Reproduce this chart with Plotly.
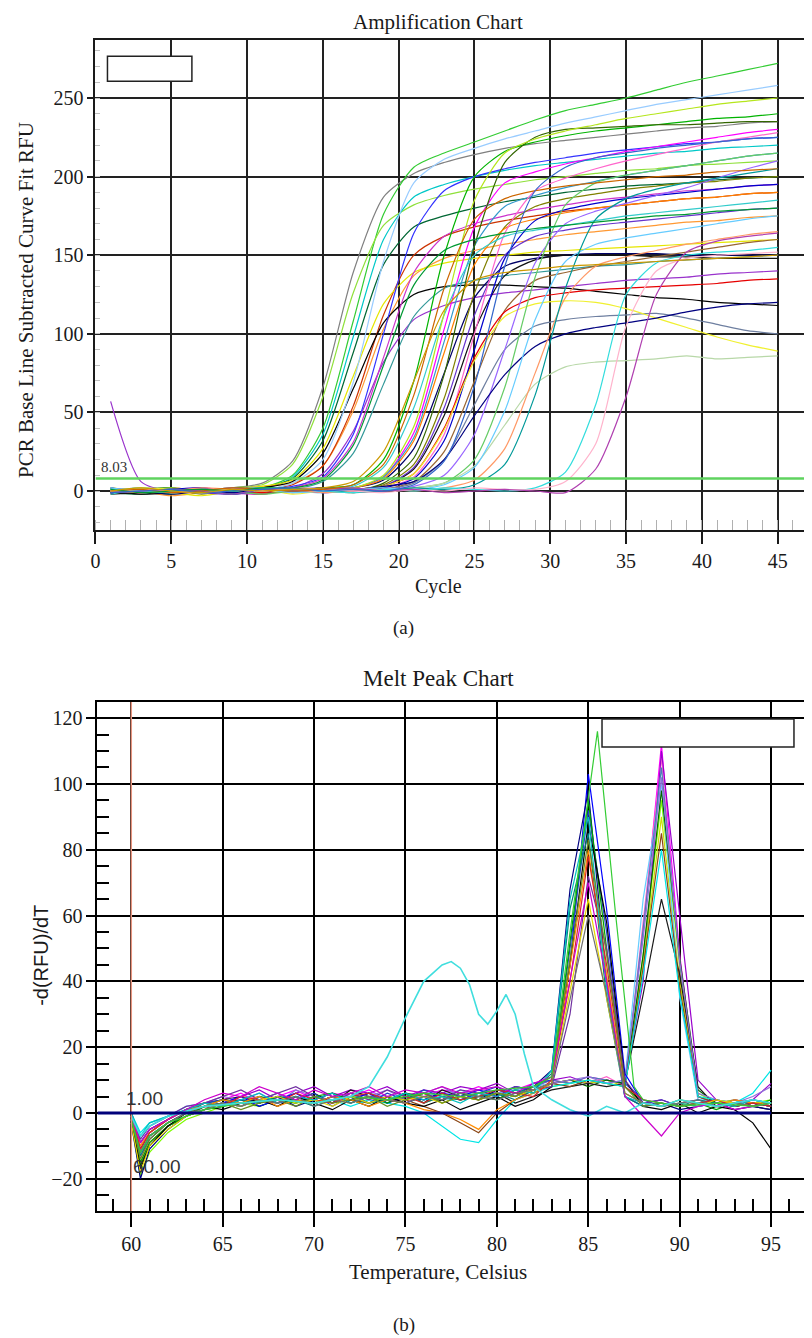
import plotly.graph_objects as go

# ---------------- Amplification chart data (RFU read at odd cycles) ----------------
AMP_CYCLES = [1, 3, 5, 7, 9, 11, 13, 15, 17, 19, 21, 23, 25, 27, 29, 31, 33, 35, 37, 39, 41, 43, 45]

AMP_01 = [2, -1, 1, 0, 2, 5, 19, 66, 139, 187, 202, 209, 214, 218, 221, 223, 225, 227, 229, 231, 232, 234, 235]
AMP_02 = [1, 0, -2, 1, 0, 2, 10, 40, 108, 176, 206, 215, 222, 229, 236, 242, 246, 250, 255, 260, 264, 268, 272]
AMP_03 = [-2, 1, 0, -1, 2, 4, 17, 60, 126, 169, 182, 188, 192, 195, 198, 200, 202, 204, 205, 207, 208, 209, 210]
AMP_04 = [0, 2, 1, -1, 1, 1, 9, 36, 98, 160, 187, 195, 200, 204, 207, 209, 211, 213, 215, 216, 218, 219, 220]
AMP_05 = [-1, -2, 0, 2, -1, 2, 8, 32, 88, 144, 168, 175, 180, 184, 187, 190, 192, 194, 195, 196, 198, 199, 200]
AMP_06 = [1, 0, -3, -1, 1, 3, 5, 16, 51, 103, 137, 148, 153, 157, 160, 163, 165, 167, 169, 171, 172, 174, 175]
AMP_07 = [-1, 1, 2, 0, -2, 1, 4, 16, 54, 112, 150, 162, 168, 172, 175, 178, 180, 182, 184, 186, 187, 189, 190]
AMP_08 = [2, 0, -1, -3, 0, 3, 7, 27, 73, 119, 139, 145, 148, 150, 152, 153, 154, 155, 156, 157, 158, 159, 160]
AMP_09 = [57, 6, 0, 1, -2, 0, 2, 11, 38, 82, 109, 118, 123, 126, 128, 130, 132, 134, 135, 136, 138, 139, 140]
AMP_10 = [0, -2, -1, 1, 0, 2, 6, 24, 65, 107, 125, 130, 131, 131, 130, 129, 127, 125, 123, 122, 120, 119, 118]
AMP_11 = [1, 0, 2, -1, 0, 1, 3, 9, 36, 100, 164, 191, 200, 205, 209, 212, 215, 217, 219, 221, 222, 224, 225]
AMP_12 = [-1, 1, 0, 2, -1, -2, 2, 8, 31, 85, 139, 162, 170, 175, 179, 182, 185, 187, 189, 191, 192, 194, 195]
AMP_13 = [0, 1, -1, 0, 2, 1, 5, 20, 69, 146, 196, 211, 218, 224, 229, 234, 238, 242, 246, 249, 252, 255, 258]
AMP_14 = [2, -1, 0, 1, -2, 0, 1, 6, 24, 68, 111, 129, 134, 137, 139, 141, 143, 144, 146, 147, 148, 149, 150]
AMP_15 = [1, 0, -2, 0, 1, -1, 0, 1, 2, 7, 27, 75, 123, 143, 148, 150, 151, 151, 151, 150, 150, 150, 150]
AMP_16 = [-2, -1, 0, 1, -1, 0, 2, 0, 1, 3, 14, 48, 102, 137, 147, 150, 150, 150, 149, 149, 148, 148, 148]
AMP_17 = [0, 1, 2, -1, 0, 2, 1, 2, 4, 20, 70, 150, 200, 216, 222, 226, 229, 231, 233, 235, 237, 238, 240]
AMP_18 = [1, -1, 0, 2, 0, -2, 1, 0, 2, 9, 37, 103, 168, 196, 203, 208, 212, 216, 219, 222, 225, 228, 230]
AMP_19 = [-1, 0, 1, -2, 1, 0, -1, 1, 1, 4, 17, 59, 126, 168, 181, 186, 189, 192, 194, 196, 197, 199, 200]
AMP_20 = [0, 2, -1, 0, 1, 1, 0, -1, 2, 9, 34, 95, 156, 181, 188, 193, 197, 201, 204, 207, 210, 213, 215]
AMP_21 = [2, 0, 1, -1, -2, 0, 1, 2, 1, 3, 15, 53, 112, 150, 162, 166, 169, 171, 173, 175, 177, 179, 180]
AMP_22 = [-1, 1, 0, 1, 0, -1, 2, 1, 2, 8, 32, 88, 144, 167, 173, 177, 180, 182, 184, 186, 187, 189, 190]
AMP_23 = [0, -1, 1, 2, 0, 1, -1, 0, 1, 2, 9, 36, 100, 164, 191, 199, 205, 210, 214, 218, 222, 225, 228]
AMP_24 = [1, 0, -1, 0, 2, 1, 0, 2, 0, 5, 21, 74, 156, 209, 225, 230, 231, 232, 233, 233, 234, 235, 235]
AMP_25 = [-2, 1, 0, -1, 1, 2, 0, 1, 3, 15, 53, 112, 150, 162, 166, 169, 172, 175, 177, 179, 181, 183, 185]
AMP_26 = [0, 1, -1, 1, 0, -2, 1, 0, -1, 1, 6, 25, 70, 115, 134, 139, 143, 146, 149, 152, 155, 158, 160]
AMP_27 = [1, 0, 2, 0, -1, 1, 0, 2, 2, 10, 41, 113, 185, 215, 224, 229, 233, 237, 240, 243, 246, 248, 250]
AMP_28 = [0, -1, 1, 0, 1, -1, 2, 0, 1, 3, 11, 40, 85, 114, 123, 126, 128, 129, 130, 131, 132, 134, 135]
AMP_29 = [-1, 0, 1, 2, -1, 0, 1, -1, 0, 2, 8, 32, 90, 148, 172, 179, 183, 186, 188, 190, 192, 194, 195]
AMP_30 = [1, 0, -1, 0, 1, 2, 0, 1, 0, 1, 5, 20, 55, 90, 105, 109, 111, 112, 113, 110, 106, 102, 100]
AMP_31 = [0, 2, 1, -1, 0, 1, -2, 0, 1, 3, 11, 39, 83, 111, 119, 121, 120, 116, 110, 104, 98, 93, 89]
AMP_32 = [0, 1, -1, 0, 2, 0, 1, -1, 0, 1, 3, 10, 36, 90, 145, 170, 178, 183, 188, 193, 199, 205, 210]
AMP_33 = [1, -1, 0, 1, 0, -2, 0, 1, 2, 0, 2, 5, 20, 66, 136, 182, 196, 201, 204, 207, 210, 213, 215]
AMP_34 = [-1, 0, 1, 0, -1, 1, 0, 2, 1, 3, 6, 20, 48, 74, 92, 100, 104, 107, 110, 114, 117, 119, 120]
AMP_35 = [0, 1, -1, 0, 1, 0, 2, 0, -1, 1, 2, 5, 16, 42, 68, 79, 82, 83, 84, 86, 84, 85, 86]
AMP_36 = [2, 0, 1, -1, 0, 1, -1, 0, 1, 2, 1, 4, 15, 51, 109, 146, 157, 161, 164, 167, 170, 173, 175]
AMP_37 = [0, -1, 0, 2, 1, 0, 1, -1, 0, 1, 0, 2, 7, 27, 75, 123, 143, 149, 153, 157, 160, 163, 165]
AMP_38 = [-1, 0, 1, 0, -2, 1, 0, 1, -1, 0, 2, 1, 4, 17, 61, 129, 173, 186, 192, 196, 199, 202, 205]
AMP_39 = [1, 0, -1, 1, 0, 2, 1, 0, -1, 1, 0, 2, 1, 0, 2, 12, 55, 125, 145, 150, 152, 153, 155]
AMP_40 = [0, 1, 0, -1, 1, 0, 2, 1, 0, -1, 1, 0, 2, 1, 1, 6, 30, 105, 140, 148, 150, 151, 152]
AMP_41 = [-1, 0, 1, 0, -2, 1, 0, 1, 2, 0, 1, -1, 0, 1, 0, -1, 14, 60, 125, 152, 159, 162, 164]
AMP_42 = [0, 1, -1, 0, 2, 1, 0, 1, 4, 17, 61, 129, 173, 186, 191, 194, 196, 198, 200, 201, 203, 204, 205]
AMP_43 = [1, -1, 0, 1, 0, 2, 2, 7, 29, 80, 131, 153, 160, 164, 167, 169, 171, 173, 175, 176, 178, 179, 180]
AMP_44 = [-1, 0, 1, -1, 0, 1, 2, 0, 1, 0, 4, 19, 67, 143, 191, 206, 212, 215, 218, 220, 222, 224, 225]
AMP_45 = [0, 2, 0, -1, 1, 0, 1, 2, 6, 25, 70, 115, 134, 139, 141, 143, 144, 145, 146, 147, 148, 149, 150]

AMP_SERIES = [AMP_01, AMP_02, AMP_03, AMP_04, AMP_05, AMP_06, AMP_07, AMP_08, AMP_09, AMP_10,
              AMP_11, AMP_12, AMP_13, AMP_14, AMP_15, AMP_16, AMP_17, AMP_18, AMP_19, AMP_20,
              AMP_21, AMP_22, AMP_23, AMP_24, AMP_25, AMP_26, AMP_27, AMP_28, AMP_29, AMP_30,
              AMP_31, AMP_32, AMP_33, AMP_34, AMP_35, AMP_36, AMP_37, AMP_38, AMP_39, AMP_40,
              AMP_41, AMP_42, AMP_43, AMP_44, AMP_45]
AMP_COLORS = ["#808080", "#33cc33", "#8fe03a", "#00c8c8", "#006633", "#ff9933", "#cc3300", "#e6e600",
              "#9933cc", "#000000", "#3333ff", "#cc33cc", "#99ccff", "#339999", "#000066", "#111111",
              "#00b300", "#ff00ff", "#808000", "#3399cc", "#6633cc", "#ff8000", "#ff66cc", "#336600",
              "#33cccc", "#996633", "#b5e61d", "#e60000", "#0000cc", "#6e7fa0", "#f0f030", "#9966ff",
              "#66cc66", "#000080", "#b8d8a8", "#66ccff", "#ff9966", "#009999", "#33dddd", "#ffb3cc",
              "#b040b0", "#cc6600", "#009933", "#3366cc", "#cc9900"]
AMP_THRESHOLD = 8.03
AMP_X_TICKS = [0, 5, 10, 15, 20, 25, 30, 35, 40, 45]
AMP_Y_TICKS = [0, 50, 100, 150, 200, 250]

# ---------------- Melt peak chart data ----------------
MELT_TEMPS = [60, 60.5, 61, 62, 63, 64, 65, 66, 67, 68, 69, 70, 71, 72, 73, 74, 75, 76, 77, 78, 79,
              80, 81, 82, 83, 84, 85, 86, 87, 88, 89, 90, 91, 92, 93, 94, 95]

# peaks near 89 C
MELT_B01 = [-2, -14, -8, -3, 0, 2, 4, 6, 3, 5, 7, 4, 6, 5, 7, 4, 6, 5, 7, 6, 8, 6, 7, 9, 10, 9, 11, 10, 9, 55, 112, 48, 5, 3, 4, 3, 2]
MELT_B02 = [0, -10, -5, -2, 1, 3, 2, 4, 5, 3, 5, 4, 3, 6, 4, 5, 3, 6, 5, 4, 6, 5, 7, 8, 9, 10, 9, 11, 8, 58, 108, 44, 4, 3, 2, 3, 2]
MELT_B03 = [-1, -16, -9, -4, -1, 2, 3, 5, 7, 4, 6, 8, 5, 7, 6, 8, 5, 7, 6, 8, 7, 9, 6, 8, 10, 11, 9, 10, 9, 40, 110, 60, 10, 4, 3, 4, 9]
MELT_B04 = [-3, -19, -12, -6, -2, 0, 2, 3, 2, 4, 3, 5, 4, 3, 5, 4, 6, 3, 5, 4, 5, 6, 5, 7, 8, 9, 10, 9, 8, 48, 95, 45, 6, 3, 4, 3, 4]
MELT_B05 = [-2, -15, -9, -4, -1, 1, 3, 4, 3, 5, 4, 3, 5, 4, 3, 5, 4, 6, 3, 5, 4, 6, 5, 7, 9, 10, 9, 10, 8, 45, 90, 40, 5, 3, 2, 3, 3]
MELT_B06 = [0, -8, -4, -1, 2, 3, 4, 3, 5, 4, 6, 3, 5, 4, 6, 5, 4, 6, 5, 7, 5, 6, 7, 8, 9, 8, 10, 9, 10, 65, 100, 35, 4, 4, 3, 2, 3]
MELT_B07 = [-1, -13, -7, -3, 0, 2, 3, 2, 4, 6, 3, 5, 4, 6, 3, 5, 4, 6, 4, 5, 6, 4, 6, 8, 10, 9, 11, 10, 9, 56, 105, 46, 5, 3, 2, 4, 3]
MELT_B08 = [-2, -16, -10, -4, -1, 1, 3, 4, 2, 4, 5, 3, 5, 4, 6, 3, 5, 4, 6, 4, 5, 6, 5, 7, 9, 10, 8, 10, 9, 48, 98, 47, 7, 3, 2, 3, 2]
MELT_B09 = [-1, -11, -6, -2, 1, 3, 4, 5, 3, 5, 4, 6, 3, 7, 5, 4, 6, 3, 7, 5, 4, 6, 3, 5, 7, 8, 9, 8, 9, 36, 65, 42, 8, 2, 3, 2, 1]
MELT_B10 = [0, -9, -5, -2, 1, 2, 3, 4, 3, 5, 4, 3, 5, 4, 3, 5, 4, 2, 0, -3, -6, 0, 4, 7, 9, 8, 10, 9, 8, 44, 85, 38, 5, 3, 2, 3, 2]
MELT_B11 = [-2, -12, -7, -3, 0, 3, 5, 4, 6, 3, 7, 5, 4, 6, 5, 7, 4, 6, 8, 5, 7, 6, 8, 7, 9, 10, 11, 9, 10, 53, 102, 46, 6, 4, 3, 5, 8]
MELT_B12 = [0, -6, -3, -1, 1, 2, 3, 2, 4, 3, 5, 3, 4, 2, 4, 3, 2, 0, -4, -8, -9, -2, 4, 6, 8, 9, 10, 9, 8, 42, 80, 36, 5, 4, 3, 6, 13]

# peaks near 85 C
MELT_A01 = [-1, -12, -7, -3, 0, 2, 3, 5, 2, 4, 6, 3, 5, 4, 6, 3, 5, 4, 6, 5, 7, 5, 8, 7, 9, 45, 103, 62, 12, 3, 4, 2, 3, 4, 2, 3, 2]
MELT_A02 = [-3, -20, -11, -5, -1, 1, 2, 4, 3, 5, 2, 4, 6, 3, 5, 4, 3, 5, 4, 6, 4, 7, 6, 8, 13, 68, 98, 40, 5, 2, 3, 1, 2, 3, 1, 2, 1]
MELT_A03 = [0, -9, -5, -2, 1, 3, 4, 2, 5, 3, 4, 6, 2, 5, 3, 6, 4, 7, 5, 4, 6, 8, 5, 9, 10, 50, 92, 55, 9, 4, 2, 3, 4, 2, 3, 4, 3]
MELT_A04 = [-2, -15, -9, -4, -1, 2, 4, 3, 5, 4, 3, 5, 6, 4, 5, 3, 6, 5, 4, 6, 5, 4, 7, 6, 9, 52, 95, 50, 8, 3, 2, 4, 3, 1, 3, 2, 4]
MELT_A05 = [-1, -17, -10, -4, 0, 2, 1, 3, 4, 2, 5, 3, 1, 4, 2, 5, 3, 2, 4, 1, 3, 5, 2, 4, 8, 45, 88, 58, 10, 2, 1, 3, 0, 2, 1, -3, -11]
MELT_A06 = [0, -8, -4, -1, 2, 3, 5, 7, 4, 6, 8, 5, 3, 6, 4, 7, 5, 6, 4, 7, 6, 5, 8, 7, 8, 30, 72, 50, 10, 3, 4, 2, 3, 2, 4, 3, 2]
MELT_A07 = [-2, -13, -8, -3, 0, 3, 2, 4, 3, 5, 4, 2, 4, 5, 3, 4, 6, 3, 5, 4, 5, 6, 4, 7, 12, 62, 85, 35, 5, 2, 3, 2, 4, 3, 2, 3, 2]
MELT_A08 = [-1, -10, -6, -2, 1, 2, 4, 3, 5, 2, 4, 3, 5, 4, 2, 4, 3, 1, 0, -2, -5, 1, 4, 6, 9, 44, 80, 42, 6, 3, 2, 4, 3, 2, 4, 3, 3]
MELT_A09 = [0, -11, -6, -2, 1, 3, 2, 5, 4, 3, 6, 4, 3, 5, 6, 4, 5, 3, 6, 4, 5, 7, 6, 5, 10, 40, 78, 45, 8, 4, 3, 2, 3, 4, 2, 3, 2]
MELT_A10 = [-3, -18, -10, -5, -1, 1, 3, 2, 4, 5, 3, 4, 2, 5, 3, 5, 4, 5, 3, 5, 4, 6, 5, 7, 9, 37, 65, 35, 6, 3, 2, 3, 2, 4, 3, 2, 3]
MELT_A11 = [0, -7, -3, -1, 1, 3, 2, 4, 6, 3, 5, 4, 6, 3, 5, 4, 6, 4, 5, 3, 6, 5, 7, 6, 13, 65, 90, 38, 5, 3, 2, 3, 2, 3, 2, 4, 3]
MELT_A12 = [-2, -14, -8, -3, 0, 2, 3, 1, 3, 4, 2, 5, 3, 4, 5, 2, 4, 6, 3, 5, 4, 6, 5, 8, 11, 47, 83, 48, 8, 2, 3, 2, 3, 2, 3, 2, 3]
MELT_A13 = [-1, -9, -5, -2, 1, 4, 6, 5, 8, 6, 4, 7, 5, 6, 8, 5, 7, 6, 8, 6, 7, 8, 6, 9, 11, 40, 70, 40, 5, -1, -7, 0, 2, 3, 1, 2, 3]
MELT_A14 = [-2, -12, -7, -3, 0, 1, 3, 2, 4, 3, 5, 2, 4, 3, 5, 4, 3, 5, 4, 6, 5, 4, 6, 7, 9, 34, 60, 36, 6, 3, 2, 3, 4, 2, 3, 2, 3]

MELT_B_SERIES = [MELT_B01, MELT_B02, MELT_B03, MELT_B04, MELT_B05, MELT_B06,
                 MELT_B07, MELT_B08, MELT_B09, MELT_B10, MELT_B11, MELT_B12]
MELT_B_COLORS = ["#ff00ff", "#ff66cc", "#9900cc", "#7cfc00", "#c8e000", "#66ccff",
                 "#4682b4", "#006400", "#1a1a1a", "#8b4513", "#9370db", "#00e5e5"]
MELT_A_SERIES = [MELT_A01, MELT_A02, MELT_A03, MELT_A04, MELT_A05, MELT_A06, MELT_A07,
                 MELT_A08, MELT_A09, MELT_A10, MELT_A11, MELT_A12, MELT_A13, MELT_A14]
MELT_A_COLORS = ["#0000ff", "#000080", "#2244cc", "#00a000", "#000000", "#7030a0", "#008080",
                 "#ff8c00", "#d62728", "#e6d800", "#00c0c0", "#6b8e23", "#cc00cc", "#707070"]

MELT_TALL_TEMPS = [60, 60.5, 61, 62, 64, 66, 68, 70, 72, 74, 76, 78, 80, 82, 83, 84, 85.5, 86.5, 87.5, 88, 89, 90, 92, 94, 95]
MELT_TALL = [-2, -12, -7, -3, 1, 3, 4, 3, 5, 4, 6, 5, 7, 8, 11, 55, 116, 60, 8, 4, 3, 2, 3, 2, 3]

MELT_HUMP_TEMPS = [60, 60.5, 61, 62, 64, 66, 68, 70, 72, 73, 74, 75, 76, 77, 77.5, 78, 78.5, 79, 79.5, 80,
                   80.5, 81, 81.5, 82, 83, 84, 85, 86, 87, 88, 89, 90, 91, 92, 93, 94, 95]
MELT_HUMP = [-1, -7, -4, -1, 2, 3, 4, 3, 5, 8, 17, 29, 40, 45, 46, 44, 39, 30, 27, 31,
             36, 30, 18, 8, 4, 1, -1, 2, 0, 3, 2, 4, 3, 2, 3, 4, 3]

MELT_X_TICKS = [60, 65, 70, 75, 80, 85, 90, 95]
MELT_Y_TICKS = [-20, 0, 20, 40, 60, 80, 100, 120]

# ---------------- Figure ----------------
# the page places the figure slightly right/down; layout positions below are
# given in window pixels and converted with this offset
OX, OY = 12, 8
W, H = 812 - OX, 1338 - OY
SERIF = "Liberation Serif"
SANS = "Liberation Sans"
INK = "#1a1a1a"


def px(x):
    return (x - OX) / W


def py(y):
    return 1 - (y - OY) / H


fig = go.Figure()

for vals, col in zip(AMP_SERIES, AMP_COLORS):
    fig.add_trace(go.Scatter(x=AMP_CYCLES, y=vals, mode="lines", xaxis="x", yaxis="y",
                             line=dict(color=col, width=1.2, shape="spline", smoothing=0.7),
                             hoverinfo="skip", showlegend=False))

for vals, col in zip(MELT_B_SERIES, MELT_B_COLORS):
    fig.add_trace(go.Scatter(x=MELT_TEMPS, y=vals, mode="lines", xaxis="x2", yaxis="y2",
                             line=dict(color=col, width=1.2), hoverinfo="skip", showlegend=False))
for vals, col in zip(MELT_A_SERIES, MELT_A_COLORS):
    fig.add_trace(go.Scatter(x=MELT_TEMPS, y=vals, mode="lines", xaxis="x2", yaxis="y2",
                             line=dict(color=col, width=1.2), hoverinfo="skip", showlegend=False))
fig.add_trace(go.Scatter(x=MELT_TALL_TEMPS, y=MELT_TALL, mode="lines", xaxis="x2", yaxis="y2",
                         line=dict(color="#33cc33", width=1.2), hoverinfo="skip", showlegend=False))
fig.add_trace(go.Scatter(x=MELT_HUMP_TEMPS, y=MELT_HUMP, mode="lines", xaxis="x2", yaxis="y2",
                         line=dict(color="#40dede", width=1.6), hoverinfo="skip", showlegend=False))

tickfont = dict(family=SERIF, size=20, color=INK)

fig.update_layout(
    width=W, height=H, margin=dict(l=0, r=0, t=0, b=0),
    paper_bgcolor="white", plot_bgcolor="white", showlegend=False,
    xaxis=dict(domain=[px(95), 1.0], range=[0, 47.0], anchor="y",
               tickmode="array", tickvals=AMP_X_TICKS, ticks="outside", ticklen=12, tickwidth=1.5,
               tickcolor=INK, showgrid=True, gridcolor="#222222", gridwidth=1.8,
               showline=True, linecolor=INK, linewidth=2, mirror=True, zeroline=False,
               tickfont=tickfont,
               minor=dict(dtick=1, tick0=0, ticks="inside", ticklen=10, tickcolor="#b0b0b0",
                          tickwidth=1, showgrid=False)),
    yaxis=dict(domain=[py(530), py(40)], range=[-24.8, 286.9], anchor="x",
               tickmode="array", tickvals=AMP_Y_TICKS, ticks="outside", ticklen=6, tickwidth=1.5,
               tickcolor=INK, showgrid=True, gridcolor="#222222", gridwidth=1.8,
               showline=True, linecolor=INK, linewidth=2, mirror=False, zeroline=False,
               tickfont=tickfont,
               minor=dict(dtick=10, tick0=0, ticks="inside", ticklen=5, tickcolor="#c0c0c0",
                          tickwidth=1, showgrid=False)),
    xaxis2=dict(domain=[px(97), px(808)], range=[58.15, 96.8], anchor="y2",
                tickmode="array", tickvals=MELT_X_TICKS, ticks="outside", ticklen=14, tickwidth=2,
                tickcolor="black", showgrid=True, gridcolor="black", gridwidth=2,
                showline=True, linecolor="black", linewidth=2, mirror=True, zeroline=False,
                tickfont=tickfont,
                minor=dict(dtick=1, tick0=60, ticks="inside", ticklen=12, tickcolor="black",
                           tickwidth=1.5, showgrid=False)),
    yaxis2=dict(domain=[py(1211), py(702)], range=[-29.8, 124.9], anchor="x2",
                tickmode="array", tickvals=MELT_Y_TICKS, ticks="outside", ticklen=9, tickwidth=2,
                tickcolor="black", showgrid=True, gridcolor="black", gridwidth=2,
                showline=True, linecolor="black", linewidth=2, mirror=True, zeroline=False,
                tickfont=tickfont,
                minor=dict(dtick=5, tick0=0, ticks="inside", ticklen=12, tickcolor="black",
                           tickwidth=1.5, showgrid=False)),
)

fig.update_layout(shapes=[
    dict(type="rect", xref="x", yref="y", x0=0.79, x1=6.36, y0=260.6, y1=276.5,
         fillcolor="white", line=dict(color="#222222", width=1.5), layer="above"),
    dict(type="line", xref="x", yref="y", x0=0, x1=47, y0=AMP_THRESHOLD, y1=AMP_THRESHOLD,
         line=dict(color="#5fd35f", width=2.5), layer="above"),
    dict(type="line", xref="x2", yref="y2 domain", x0=60, x1=60, y0=0, y1=1,
         line=dict(color="#e8957f", width=1.5), layer="above"),
    dict(type="line", xref="x2", yref="y2", x0=58.15, x1=95, y0=0, y1=0,
         line=dict(color="#00007a", width=3), layer="above"),
    dict(type="rect", xref="x2", yref="y2", x0=85.75, x1=96.25, y0=111.2, y1=119.7,
         fillcolor="white", line=dict(color="#222222", width=1.5), layer="above"),
])


def ann(text, x, y, size, family=SERIF, angle=0, xref="paper", yref="paper", color=INK):
    return dict(text=text, x=x, y=y, xref=xref, yref=yref, showarrow=False, textangle=angle,
                font=dict(family=family, size=size, color=color), xanchor="center", yanchor="middle")


fig.update_layout(annotations=[
    ann("Amplification Chart", px(440), py(22), 21),
    ann("Cycle", px(440), py(586), 20),
    ann("PCR Base Line Subtracted Curve Fit RFU", px(25), py(300), 21, angle=-90),
    ann("(a)", px(405), py(628), 19),
    ann("Melt Peak Chart", px(440), py(678), 23),
    ann("Temperature, Celsius", px(440), py(1272), 21),
    ann("-d(RFU)/dT", px(40), py(955), 20, family=SANS, angle=-90),
    ann("(b)", px(405), py(1325), 19),
    ann("8.03", 1.25, 15, 15, family="Liberation Sans Narrow", xref="x", yref="y", color="#333333"),
    ann("1.00", 60.7, 4.5, 19, family=SANS, xref="x2", yref="y2", color="#333333"),
    ann("60.00", 61.4, -16.4, 19, family=SANS, xref="x2", yref="y2", color="#333333"),
])

fig.write_html("out.html")
